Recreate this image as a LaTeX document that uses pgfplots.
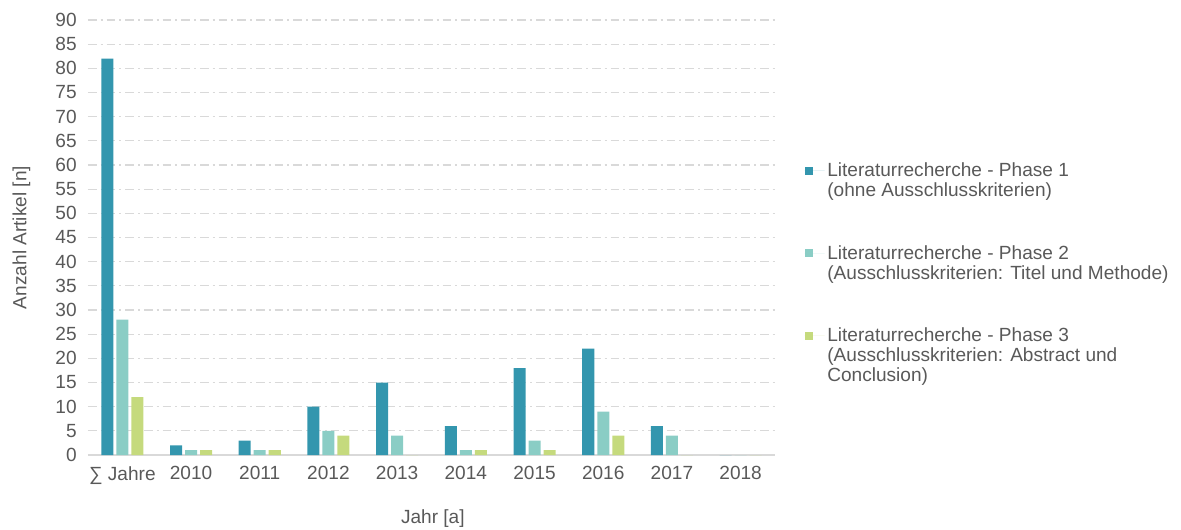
\documentclass[border=0pt]{standalone}
\usepackage{fontspec}
\setmainfont{Liberation Sans}
\usepackage{pgfplots}
\pgfplotsset{compat=1.18}
\definecolor{cA}{HTML}{3396AE}
\definecolor{cB}{HTML}{8ACDC5}
\definecolor{cC}{HTML}{C5DA7D}
\definecolor{txt}{HTML}{595959}
\definecolor{gridc}{HTML}{D9D9D9}
\pgfplotsset{
  sqleg/.style={legend image code/.code={\fill[##1,draw=none] (0pt,#1-3pt) rectangle (6pt,#1+3pt); \path (0pt,#1) -- (15pt,#1);}},
}
\begin{document}
\begin{tikzpicture}
\useasboundingbox (0,0) rectangle (885.75pt,396.75pt);
\begin{axis}[
  at={(66pt,55.5pt)}, anchor=south west,
  scale only axis, width=515.25pt, height=326.25pt,
  ybar=2.25pt, bar width=9pt,
  xmin=-0.5, xmax=9.5, ymin=0, ymax=90,
  xtick={0,...,9},
  xticklabels={∑ Jahre,2010,2011,2012,2013,2014,2015,2016,2017,2018},
  ytick={0,5,...,90},
  axis lines*=left,
  y axis line style={draw=none},
  x axis line style={draw=gridc, line width=1.5pt, -},
  major tick length=0pt,
  ymajorgrids,
  major grid style={gridc, line width=0.9pt, dash pattern=on 6.5pt off 3pt on 1.5pt off 3pt},
  /pgf/number format/assume math mode=true,
  tick label style={font=\fontsize{14.3}{16}\selectfont, text=txt},
  yticklabel style={anchor=east, xshift=-5pt},
  xticklabel style={anchor=north, yshift=-5pt},
  label style={font=\fontsize{14.3}{16}\selectfont, text=txt},
  xlabel={Jahr [a]},
  ylabel={Anzahl Artikel [n]},
  xlabel style={at={(axis description cs:0.502,-0.145)}, anchor=center},
  ylabel style={at={(axis description cs:-0.097,0.5)}, anchor=center},
  legend style={draw=none, fill=none, at={(axis description cs:1.037,0.684)}, anchor=north west,
    cells={anchor=west, align=left}, row sep=31pt, font=\fontsize{14.3}{15}\selectfont, text=txt},
]
\addplot[fill=cA, draw=none, sqleg=7.5pt] coordinates {(0,82) (1,2) (2,3) (3,10) (4,15) (5,6) (6,18) (7,22) (8,6) (9,0)};
\addplot[fill=cB, draw=none, sqleg=7.5pt] coordinates {(0,28) (1,1) (2,1) (3,5) (4,4) (5,1) (6,3) (7,9) (8,4) (9,0)};
\addplot[fill=cC, draw=none, sqleg=15pt] coordinates {(0,12) (1,1) (2,1) (3,4) (4,0) (5,1) (6,1) (7,4) (8,0) (9,0)};
\legend{{Literaturrecherche - Phase 1\\(ohne Ausschlusskriterien)},
        {Literaturrecherche - Phase 2\\(Ausschlusskriterien: Titel und Methode)},
        {Literaturrecherche - Phase 3\\(Ausschlusskriterien: Abstract und\\Conclusion)}}
\end{axis}
\end{tikzpicture}
\end{document}
